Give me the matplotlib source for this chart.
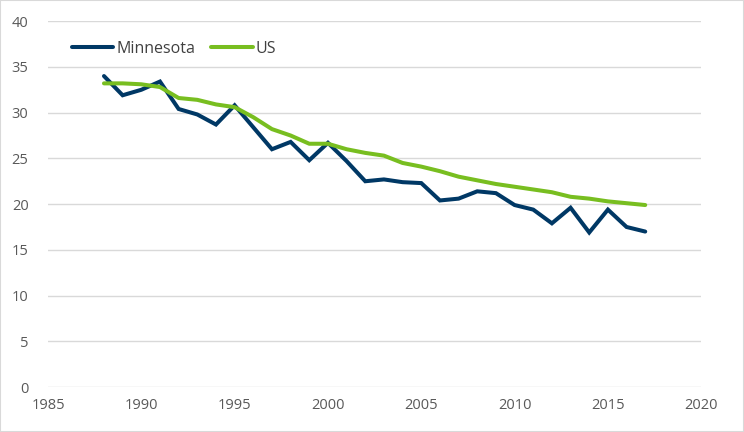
import matplotlib
matplotlib.use('Agg')
import matplotlib.pyplot as plt
from matplotlib.patches import Rectangle

# Data
years = list(range(1988, 2018))
minnesota = [34.0, 31.9, 32.5, 33.4, 30.4, 29.8, 28.7, 30.8, 28.4, 26.0,
             26.8, 24.8, 26.7, 24.7, 22.5, 22.7, 22.4, 22.3, 20.4, 20.6,
             21.4, 21.2, 19.9, 19.4, 17.9, 19.6, 16.9, 19.4, 17.5, 17.0]
us = [33.2, 33.2, 33.1, 32.8, 31.6, 31.4, 30.9, 30.6, 29.5, 28.2,
      27.5, 26.6, 26.6, 26.0, 25.6, 25.3, 24.5, 24.1, 23.6, 23.0,
      22.6, 22.2, 21.9, 21.6, 21.3, 20.8, 20.6, 20.3, 20.1, 19.9]

plt.rcParams['font.family'] = ['Open Sans', 'DejaVu Sans']

fig = plt.figure(figsize=(7.44, 4.32), dpi=100)
ax = fig.add_axes([0.0645, 0.104, 0.878, 0.847])

ax.plot(years, minnesota, color='#003865', lw=2.9, label='Minnesota',
        solid_capstyle='round', solid_joinstyle='miter')
ax.plot(years, us, color='#78BE20', lw=2.9, label='US',
        solid_capstyle='round')

ax.set_xlim(1985, 2020)
ax.set_ylim(0, 40)
ax.set_xticks(range(1985, 2021, 5))
ax.set_yticks(range(0, 41, 5))
ax.grid(axis='y', color='#d9d9d9', lw=1)
ax.set_axisbelow(True)
for s in ax.spines.values():
    s.set_visible(False)
ax.tick_params(length=0, labelsize=10.5, colors='#595959', pad=8)
ax.tick_params(axis='y', pad=14)

ax.legend(loc='upper left', bbox_to_anchor=(0.014, 0.985), ncol=2, frameon=False,
          fontsize=11.5, labelcolor='#404040', handlelength=2.6,
          handletextpad=0.2, columnspacing=1.0)

fig.patches.append(Rectangle((0, 0), 1, 1, transform=fig.transFigure,
                             fill=False, edgecolor='#d9d9d9', lw=1.5))

fig.savefig('out.png', dpi=100)
plt.close(fig)
